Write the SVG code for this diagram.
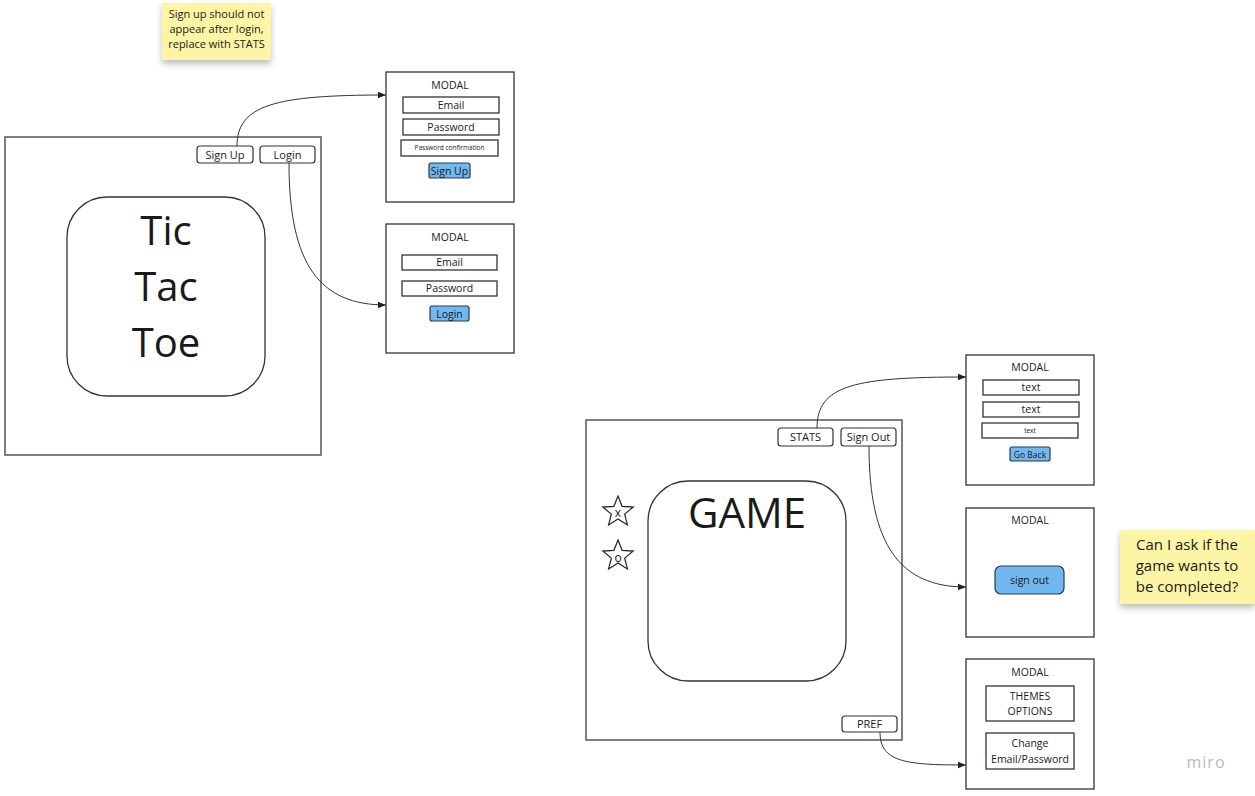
<svg xmlns="http://www.w3.org/2000/svg" width="1255" height="796" viewBox="0 0 1255 796">
<defs>
<style>
text{font-family:"Open Sans","Noto Sans","Liberation Sans",sans-serif;fill:#1a1a1a;text-anchor:middle}
.frame{fill:#fff;stroke:#555;stroke-width:1.5}
.modal{fill:#fff;stroke:#333;stroke-width:1.3}
.field{fill:#fff;stroke:#333;stroke-width:1.3}
.btn{fill:#fff;stroke:#333;stroke-width:1.2}
.blue{fill:#72b8f0;stroke:#2a3a4a;stroke-width:1.2}
.inner{fill:#fff;stroke:#333;stroke-width:1.3}
.conn{fill:none;stroke:#333;stroke-width:1;marker-end:url(#arr)}
.sticky{fill:#fdf5a6}
.t11{font-size:11px}
.t10{font-size:10.5px}
.t7{font-size:6.5px}
</style>
<marker id="arr" viewBox="0 0 10 10" refX="10" refY="5" markerWidth="10" markerHeight="8" markerUnits="userSpaceOnUse" orient="auto">
<path d="M0,1 L10,5 L0,9 Z" fill="#222"/>
</marker>
<filter id="sh" x="-20%" y="-20%" width="140%" height="160%">
<feDropShadow dx="0" dy="4" stdDeviation="3" flood-color="#000" flood-opacity="0.25"/>
</filter>
<path id="star" d="M0,-16 L4.11,-5.66 L15.22,-4.94 L6.66,2.16 L9.4,12.94 L0,7 L-9.4,12.94 L-6.66,2.16 L-15.22,-4.94 L-4.11,-5.66 Z" fill="#fff" stroke="#222" stroke-width="1.2"/>
</defs>
<rect width="1255" height="796" fill="#fff"/>

<g id="sticky-signup">
<rect class="sticky" x="162" y="3" width="109" height="57" filter="url(#sh)"/>
<text x="216.5" y="18" font-size="11">Sign up should not</text>
<text x="216.5" y="33" font-size="11">appear after login,</text>
<text x="216.5" y="48" font-size="11">replace with STATS</text>
</g>

<g id="home-frame">
<rect class="frame" x="5" y="137" width="316" height="318"/>
<rect class="inner" x="67" y="197" width="198" height="199" rx="40"/>
<text x="166" y="245" font-size="40">Tic</text>
<text x="166" y="301" font-size="40">Tac</text>
<text x="166" y="357" font-size="40">Toe</text>
</g>
<g id="btn-signup">
<rect class="btn" x="197" y="146" width="56" height="17" rx="3"/>
<text class="t11" x="225" y="158.5">Sign Up</text>
</g>
<g id="btn-login">
<rect class="btn" x="260" y="146" width="55" height="17" rx="3"/>
<text class="t11" x="287.5" y="158.5">Login</text>
</g>

<g id="modal-signup">
<rect class="modal" x="386" y="72" width="128" height="130"/>
<text class="t10" x="450" y="89">MODAL</text>
<rect class="field" x="403" y="97" width="96" height="16"/>
<text class="t10" x="451" y="108.5">Email</text>
<rect class="field" x="403" y="119" width="96" height="16"/>
<text class="t10" x="451" y="130.5">Password</text>
<rect class="field" x="401" y="140" width="97" height="16"/>
<text class="t7" x="449.5" y="150">Password confirmation</text>
<rect class="blue" x="429" y="163" width="41" height="15" rx="2"/>
<text class="t10" x="449.5" y="174.5">Sign Up</text>
</g>

<g id="modal-login">
<rect class="modal" x="386" y="224" width="128" height="129"/>
<text class="t10" x="450" y="241">MODAL</text>
<rect class="field" x="402" y="255" width="95" height="15"/>
<text class="t10" x="449.5" y="266">Email</text>
<rect class="field" x="402" y="281" width="95" height="15"/>
<text class="t10" x="449.5" y="292">Password</text>
<rect class="blue" x="430" y="306" width="39" height="15" rx="2"/>
<text class="t10" x="449.5" y="317.5">Login</text>
</g>

<g id="game-frame">
<rect class="frame" x="586" y="420" width="316" height="320"/>
<rect class="inner" x="648" y="481" width="198" height="200" rx="40"/>
<text x="747" y="528" font-size="42">GAME</text>
<use href="#star" x="618" y="512"/>
<text x="618" y="517" font-size="12">x</text>
<use href="#star" x="618" y="556"/>
<text x="618" y="561.5" font-size="12">o</text>
</g>
<g id="btn-stats">
<rect class="btn" x="778" y="428" width="55" height="18" rx="3"/>
<text class="t11" x="805.5" y="441">STATS</text>
</g>
<g id="btn-signout">
<rect class="btn" x="841" y="428" width="55" height="18" rx="3"/>
<text class="t11" x="868.5" y="441">Sign Out</text>
</g>
<g id="btn-pref">
<rect class="btn" x="842" y="716" width="55" height="16" rx="3"/>
<text class="t11" x="869.5" y="728">PREF</text>
</g>

<g id="modal-stats">
<rect class="modal" x="966" y="355" width="128" height="130"/>
<text class="t10" x="1030" y="371">MODAL</text>
<rect class="field" x="983" y="380" width="96" height="15"/>
<text class="t10" x="1031" y="391">text</text>
<rect class="field" x="983" y="402" width="96" height="15"/>
<text class="t10" x="1031" y="413">text</text>
<rect class="field" x="982" y="423" width="96" height="15"/>
<text class="t7" x="1030" y="432.5">text</text>
<rect class="blue" x="1010" y="447" width="40" height="14" rx="2"/>
<text x="1030" y="457.5" font-size="8.5">Go Back</text>
</g>

<g id="modal-signout">
<rect class="modal" x="966" y="508" width="128" height="129"/>
<text class="t10" x="1030" y="524">MODAL</text>
<rect class="blue" x="995" y="566" width="69" height="28" rx="6"/>
<text class="t10" x="1029.5" y="583.5">sign out</text>
</g>

<g id="modal-pref">
<rect class="modal" x="966" y="659" width="128" height="130"/>
<text class="t10" x="1030" y="676">MODAL</text>
<rect class="field" x="986" y="686" width="88" height="35"/>
<text class="t10" x="1030" y="700">THEMES</text>
<text class="t10" x="1030" y="715">OPTIONS</text>
<rect class="field" x="986" y="733" width="88" height="36"/>
<text class="t10" x="1030" y="747">Change</text>
<text class="t10" x="1030" y="763">Email/Password</text>
</g>

<g id="sticky-game">
<rect class="sticky" x="1120" y="530" width="135" height="74" filter="url(#sh)"/>
<text x="1187" y="550" font-size="15">Can I ask if the</text>
<text x="1187" y="571" font-size="15">game wants to</text>
<text x="1187" y="592" font-size="15">be completed?</text>
</g>

<g id="connectors">
<path class="conn" d="M237,146 C237,105 275,95 386,95"/>
<path class="conn" d="M289,163 C289,265 320,305 386,305"/>
<path class="conn" d="M817,428 C817,385 855,377 966,377"/>
<path class="conn" d="M869,446 C869,545 900,587 966,587"/>
<path class="conn" d="M880,732 C880,762 905,765 966,765"/>
</g>

<text x="1206" y="768" font-size="16" style="fill:#bbb;font-family:'Open Sans','Liberation Sans',sans-serif" letter-spacing="1">miro</text>
</svg>
